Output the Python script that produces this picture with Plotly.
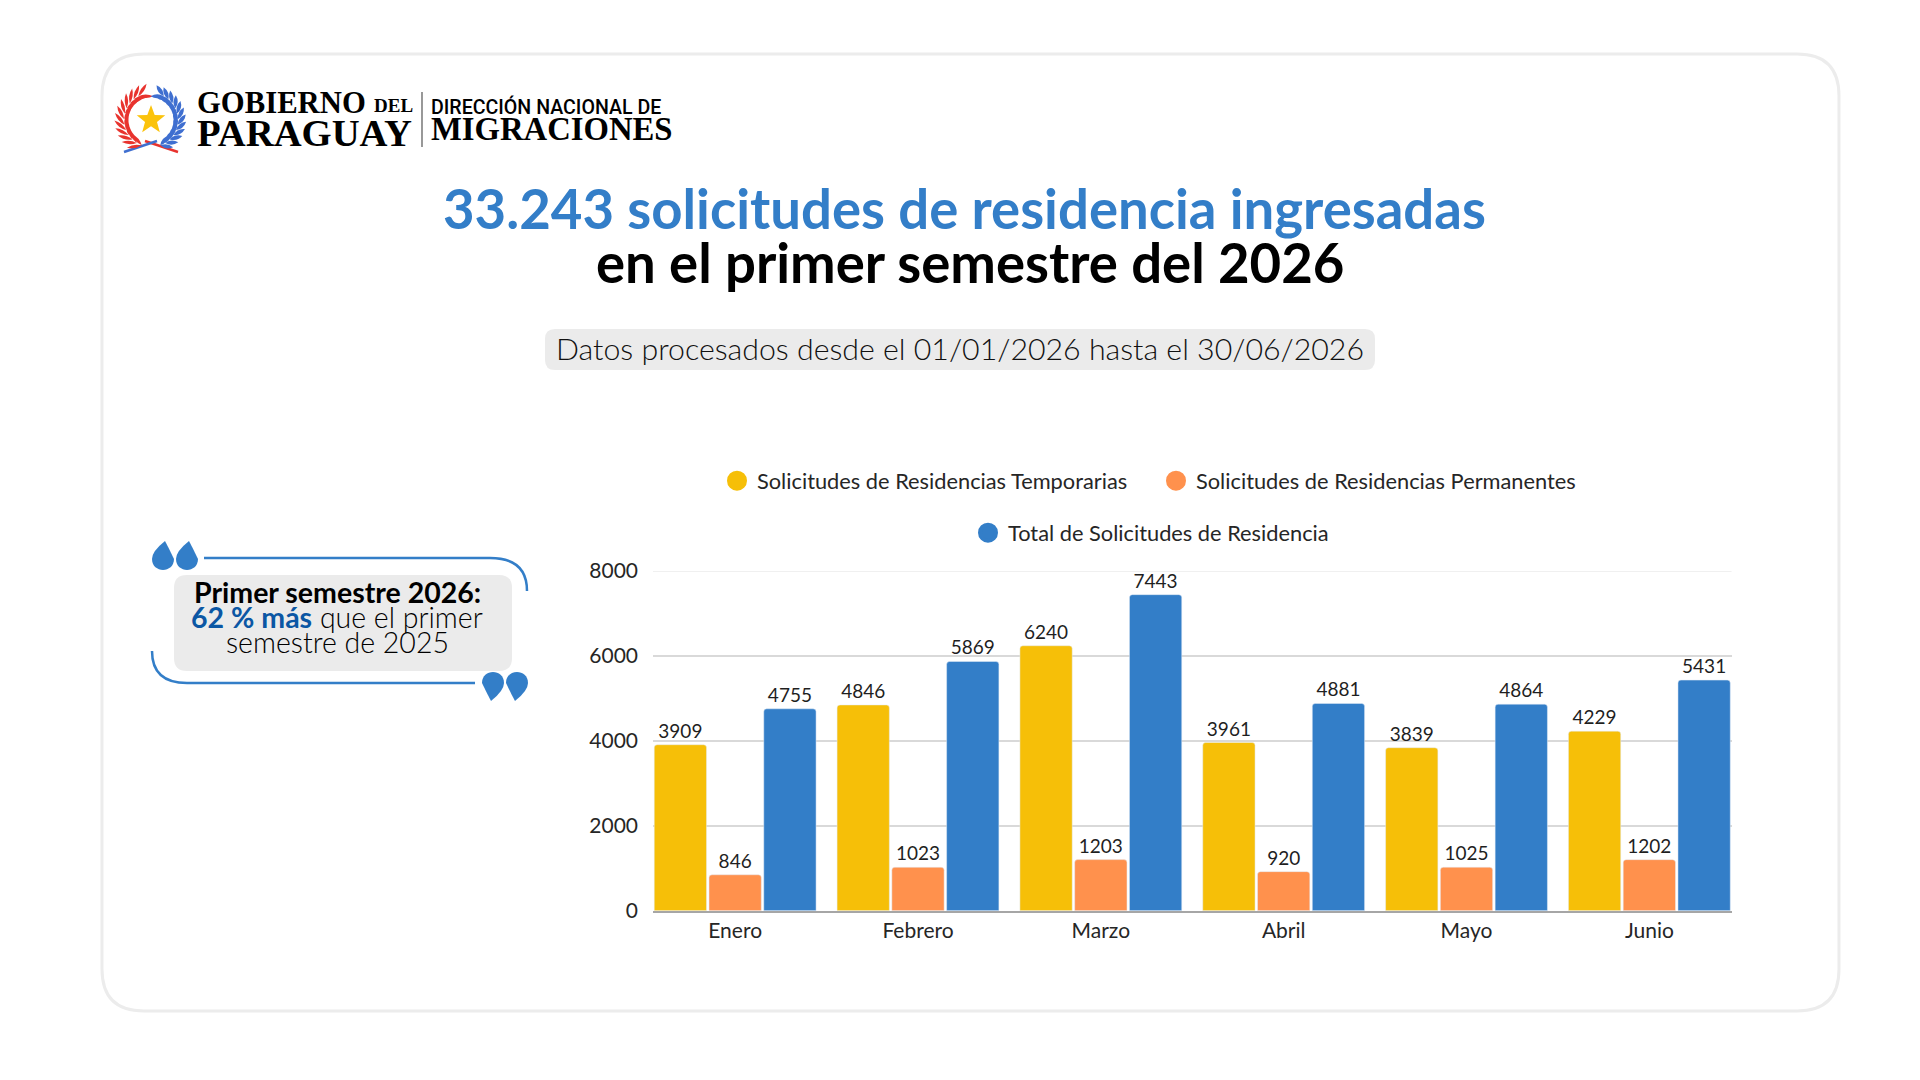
import math
import plotly.graph_objects as go

# Datos
meses = ["Enero", "Febrero", "Marzo", "Abril", "Mayo", "Junio"]
temporarias = [3909, 4846, 6240, 3961, 3839, 4229]
permanentes = [846, 1023, 1203, 920, 1025, 1202]
total = [4755, 5869, 7443, 4881, 4864, 5431]
y_ticks = [0, 2000, 4000, 6000, 8000]

AMARILLO = "#F6BF08"
NARANJA = "#FF914D"
AZUL = "#337EC8"
FUENTE = "Lato"
SERIF = "Liberation Serif"
W, H = 1920, 1080


# pasar de pixeles de la pantalla a coordenadas paper
def px(x):
    return x / W


def py(y):
    return 1 - y / H


def pt(x, y):
    return f"{px(x):.5f} {py(y):.5f}"


def caja(x0, y0, x1, y1, r):
    return (f"M {pt(x0 + r, y0)} L {pt(x1 - r, y0)} Q {pt(x1, y0)} {pt(x1, y0 + r)} "
            f"L {pt(x1, y1 - r)} Q {pt(x1, y1)} {pt(x1 - r, y1)} "
            f"L {pt(x0 + r, y1)} Q {pt(x0, y1)} {pt(x0, y1 - r)} "
            f"L {pt(x0, y0 + r)} Q {pt(x0, y0)} {pt(x0 + r, y0)} Z")


def gota(cx, cy, r, tx, ty):
    # comilla: circulo con una punta
    s = 1 if cy > ty else -1
    lado = s
    return (f"M {pt(tx, ty)} Q {pt(cx + lado * r * 0.55, cy - s * r * 0.95)} {pt(cx + lado * r, cy)} "
            f"C {pt(cx + lado * r, cy + s * r * 1.32)} {pt(cx - lado * r, cy + s * r * 1.32)} {pt(cx - lado * r, cy)} "
            f"Q {pt(cx - lado * r, cy - s * r * 0.7)} {pt(tx, ty)} Z")


def hoja(x, y, ang, largo, ancho):
    dx, dy = math.cos(ang), math.sin(ang)
    nx, ny = -dy, dx
    mx, my = x + dx * largo / 2, y + dy * largo / 2
    return (f"M {pt(x, y)} Q {pt(mx + nx * ancho, my + ny * ancho)} {pt(x + dx * largo, y + dy * largo)} "
            f"Q {pt(mx - nx * ancho, my - ny * ancho)} {pt(x, y)} Z")


def estrella(cx, cy, r):
    puntos = []
    for i in range(10):
        rad = r if i % 2 == 0 else r * 0.42
        a = -math.pi / 2 + i * math.pi / 5
        puntos.append(pt(cx + rad * math.cos(a), cy + rad * math.sin(a)))
    return "M " + " L ".join(puntos) + " Z"


fig = go.Figure()

# Barras
for nombre, valores, color in [
    ("Solicitudes de Residencias Temporarias", temporarias, AMARILLO),
    ("Solicitudes de Residencias Permanentes", permanentes, NARANJA),
    ("Total de Solicitudes de Residencia", total, AZUL),
]:
    fig.add_trace(go.Bar(
        x=meses,
        y=valores,
        name=nombre,
        marker_color=color,
        text=valores,
        textposition="outside",
        textangle=0,
        cliponaxis=False,
        showlegend=False,
        textfont=dict(family=FUENTE, size=19, color="#1F1F1F"),
    ))

# Leyenda con circulos, dos filas centradas
for nombre, color, leyenda in [
    ("Solicitudes de Residencias Temporarias", AMARILLO, "legend"),
    ("Solicitudes de Residencias Permanentes", NARANJA, "legend"),
    ("Total de Solicitudes de Residencia", AZUL, "legend2"),
]:
    fig.add_trace(go.Scatter(
        x=[None], y=[None], mode="markers", name=nombre, legend=leyenda,
        marker=dict(symbol="circle", size=16, color=color, line=dict(color=color, width=4)),
    ))

shapes = []


def forma(path, fill=None, line=None, width=0, layer="below"):
    shapes.append(dict(type="path", xref="paper", yref="paper", path=path, fillcolor=fill,
                       line=dict(color=line or "rgba(0,0,0,0)", width=width), layer=layer))


# Tarjeta
forma(caja(102, 54, 1839, 1011, 42), fill="#FFFFFF", line="#ECECEC", width=3)
# Fondo del subtitulo y del recuadro
forma(caja(545, 329, 1375, 370, 10), fill="#EBEBEB")
forma(caja(174, 575, 512, 671, 13), fill="#EBEBEB")
# Lineas del recuadro
forma(f"M {pt(204, 558)} L {pt(490, 558)} Q {pt(527, 558)} {pt(527, 591)}", line=AZUL, width=2.5)
forma(f"M {pt(152, 651)} Q {pt(152, 683)} {pt(187, 683)} L {pt(475, 683)}", line=AZUL, width=2.5)
# Comillas
forma(gota(163, 559, 11, 165, 541), fill=AZUL)
forma(gota(187, 559, 11, 189, 541), fill=AZUL)
forma(gota(493, 683, 11, 491, 701), fill=AZUL)
forma(gota(517, 683, 11, 515, 701), fill=AZUL)
# Emblema
forma(estrella(151, 120, 15), fill="#FBC30C")
CX, CY, R = 151, 120, 27
forma(f"M {pt(178, 152)} L {pt(145, 141)}", line="#E8332E", width=2.5)
forma(f"M {pt(124, 152)} L {pt(157, 141)}", line="#3F6FD0", width=2.5)
for grados in [200, 212, 224, 236, 248, 260, 272, 284, 296, 308, 320, 332]:
    a = math.radians(grados - 90)
    x, y = CX + R * math.cos(a), CY + R * math.sin(a)
    tang = a + math.pi / 2
    forma(hoja(x, y, tang + 0.5, 15, 3.4), fill="#E8332E")
    forma(hoja(x, y, tang - 0.5, 15, 3.4), fill="#E8332E")
for grados in [160, 148, 136, 124, 112, 100, 88, 76, 64, 52, 40, 28]:
    a = math.radians(grados - 90)
    x, y = CX + R * math.cos(a), CY + R * math.sin(a)
    tang = a - math.pi / 2
    forma(hoja(x, y, tang + 0.5, 13, 4.2), fill="#3F6FD0")
    forma(hoja(x, y, tang - 0.5, 13, 4.2), fill="#3F6FD0")
# Separador del logo
forma(f"M {pt(422, 92)} L {pt(422, 147)}", line="#777777", width=1.5)
# Linea de 8000 mas clara que las otras
shapes.append(dict(type="line", xref="paper", yref="y", x0=px(653), x1=px(1731.5), y0=8000, y1=8000,
                   line=dict(color="#F0F0F0", width=2), layer="below"))

annotations = []


def texto(x, y, s, size, color="#000000", family=FUENTE, anchor="center", weight=None):
    annotations.append(dict(
        x=px(x), y=py(y), xref="paper", yref="paper", text=s, showarrow=False,
        xanchor=anchor, yanchor="middle", align=anchor,
        font=dict(family=family, size=size, color=color, weight=weight),
    ))


# Logo
texto(195, 103, "GOBIERNO", 30.7, family=SERIF, anchor="left", weight=700)
texto(372, 106, "DEL", 19, family=SERIF, anchor="left", weight=700)
texto(195, 133, "PARAGUAY", 38.7, family=SERIF, anchor="left", weight=700)
texto(429, 107, "DIRECCIÓN NACIONAL DE", 19.6, family="Roboto", anchor="left", weight=500)
texto(429, 129, "MIGRACIONES", 32.7, family=SERIF, anchor="left", weight=700)
# Titulos
texto(964, 208, "33.243 solicitudes de residencia ingresadas", 54.5, color=AZUL, weight=700)
texto(970, 262, "en el primer semestre del 2026", 54.5, weight=700)
texto(960, 348, "Datos procesados desde el 01/01/2026 hasta el 30/06/2026", 30.3, color="#111111", weight=300)
# Recuadro
texto(337, 592, "<b>Primer semestre 2026:</b>", 28.5)
texto(337, 617, "<b style='color:#0B57A4'>62 % más</b> que el primer", 28.5, color="#000000", weight=300)
texto(337, 642, "semestre de 2025", 28.5, color="#000000", weight=300)

leyenda_comun = dict(
    orientation="h", xanchor="center", yanchor="middle",
    xref="container", yref="container",
    bgcolor="rgba(0,0,0,0)", font=dict(family=FUENTE, size=21.8, color="#262626"),
    itemsizing="trace",
)

fig.update_layout(
    width=W,
    height=H,
    autosize=False,
    margin=dict(l=0, r=0, t=0, b=0, autoexpand=False),
    paper_bgcolor="#FFFFFF",
    plot_bgcolor="rgba(0,0,0,0)",
    barmode="group",
    bargap=0.1014,
    bargroupgap=0.045,
    barcornerradius=3,
    font=dict(family=FUENTE, color="#262626"),
    shapes=shapes,
    annotations=annotations,
    legend=dict(x=px(1156), y=py(481), entrywidth=394, **leyenda_comun),
    legend2=dict(x=px(1151), y=py(533), **leyenda_comun),
    xaxis=dict(
        domain=[px(653), px(1731.5)],
        type="category",
        categoryorder="array",
        categoryarray=meses,
        range=[-0.4493, 5.4493],
        showgrid=False,
        showline=True,
        linecolor="#A6A6A6",
        linewidth=1.5,
        ticks="",
        ticklabelstandoff=0,
        tickfont=dict(family=FUENTE, size=21, color="#262626"),
    ),
    yaxis=dict(
        domain=[py(910.7), py(571)],
        range=[0, 8000],
        tickvals=y_ticks,
        tickformat="d",
        gridcolor="#D9D9D9",
        gridwidth=1.5,
        zeroline=False,
        ticks="",
        ticklabelstandoff=14,
        tickfont=dict(family=FUENTE, size=21, color="#262626"),
    ),
)

fig.write_html("out.html", config={"displayModeBar": False}, post_script="document.body.style.margin='0';")
